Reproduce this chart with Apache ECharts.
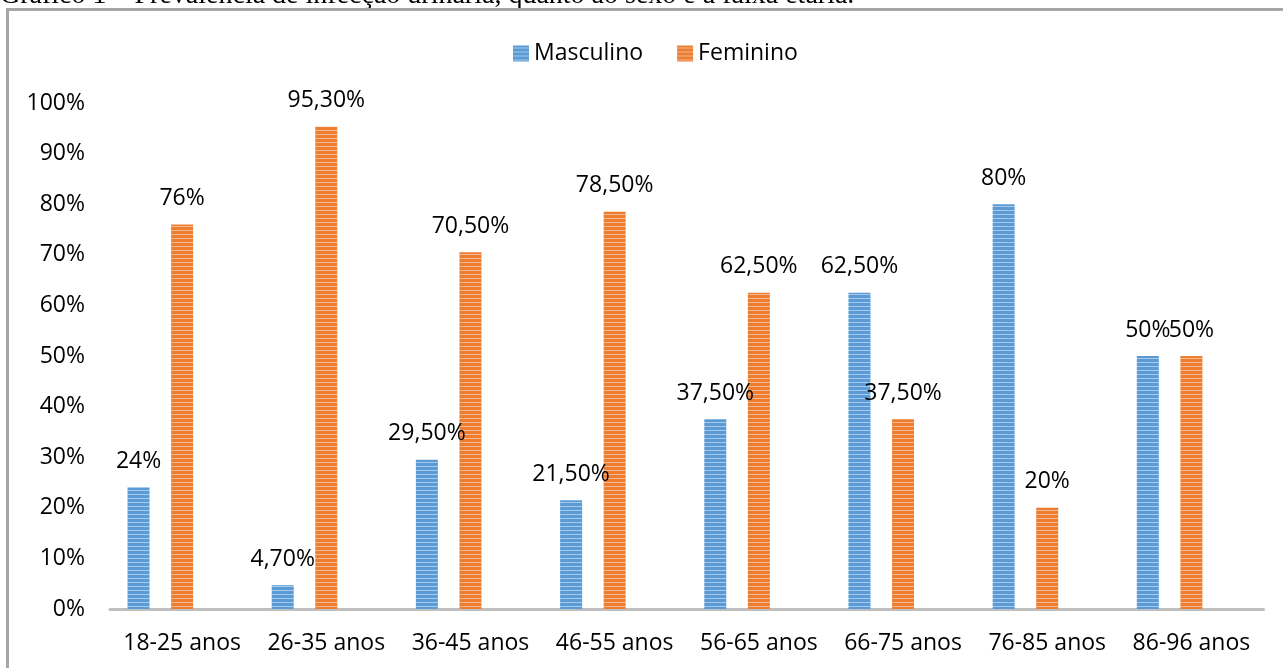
<!DOCTYPE html>
<html>
<head>
<meta charset="utf-8">
<script src="https://cdn.jsdelivr.net/npm/echarts@6/dist/echarts.min.js"></script>
<style>
  html, body { margin: 0; padding: 0; background: #fff; }
  #chart { width: 1283px; height: 668px; }
</style>
</head>
<body>
<div id="chart"></div>
<script>
// Faixas etárias e prevalência (%) por sexo
const categories = ['18-25 anos', '26-35 anos', '36-45 anos', '46-55 anos', '56-65 anos', '66-75 anos', '76-85 anos', '86-96 anos'];
const masculino = [24, 4.7, 29.5, 21.5, 37.5, 62.5, 80, 50];
const feminino = [76, 95.3, 70.5, 78.5, 62.5, 37.5, 20, 50];
const yTicks = [0, 10, 20, 30, 40, 50, 60, 70, 80, 90, 100];

const FONT = '"Open Sans", "Noto Sans", sans-serif';
const FS = 23;

// Horizontal stripe fill, like an office "narrow horizontal" pattern
function stripes(dark, light) {
  const c = document.createElement('canvas');
  c.width = 4; c.height = 4;
  const g = c.getContext('2d');
  g.fillStyle = dark; g.fillRect(0, 0, 4, 4);
  g.fillStyle = light; g.fillRect(0, 2, 4, 1);
  return { image: c, repeat: 'repeat' };
}
const blueFill = stripes('#5b9bd5', '#a8c9ea');
const orangeFill = stripes('#ed7d31', '#f6b88f');

// 24 -> "24%", 4.7 -> "4,70%"
function pct(v) {
  return Number.isInteger(v) ? v + '%' : v.toFixed(2).replace('.', ',') + '%';
}

const labelStyle = {
  show: true,
  position: 'top',
  distance: 14,
  fontFamily: FONT,
  fontSize: FS,
  lineHeight: 24,
  color: '#000',
  formatter: p => pct(p.value)
};

const chart = echarts.init(document.getElementById('chart'), null, { renderer: 'canvas' });
chart.setOption({
  animation: false,
  backgroundColor: '#fff',
  graphic: [
    {
      type: 'text',
      left: 0,
      top: -18,
      z: 1,
      style: {
        text: 'Gráfico 1 – Prevalência de infecção urinária, quanto ao sexo e a faixa etária.',
        font: '28px "Liberation Serif", "Times New Roman", serif',
        fill: '#000'
      }
    },
    {
      type: 'rect',
      z: 2,
      shape: { x: 7.5, y: 9.5, width: 1300, height: 700 },
      style: { fill: 'none', stroke: '#a6a6a6', lineWidth: 3 }
    }
  ],
  legend: {
    data: ['Masculino', 'Feminino'],
    left: 508,
    top: 37,
    itemWidth: 16,
    itemHeight: 16,
    itemGap: 34,
    icon: 'rect',
    textStyle: { fontFamily: FONT, fontSize: FS, color: '#000', padding: [0, 0, 0, 0] }
  },
  grid: { left: 110, right: 19.5, top: 103, bottom: 59, containLabel: false },
  xAxis: {
    type: 'category',
    data: categories,
    axisLine: { lineStyle: { color: '#bfbfbf', width: 3 } },
    axisTick: { show: false },
    axisLabel: { interval: 0, fontFamily: FONT, fontSize: FS, lineHeight: 24, color: '#000', margin: 22 }
  },
  yAxis: {
    type: 'value',
    min: yTicks[0],
    max: yTicks[yTicks.length - 1],
    interval: yTicks[1] - yTicks[0],
    splitLine: { show: false },
    axisLine: { show: false },
    axisTick: { show: false },
    axisLabel: { fontFamily: FONT, fontSize: FS, color: '#000', margin: 25, formatter: v => v + '%' }
  },
  series: [
    {
      name: 'Masculino',
      type: 'bar',
      data: masculino,
      barWidth: 22,
      barGap: '98%',
      itemStyle: { color: blueFill },
      label: labelStyle
    },
    {
      name: 'Feminino',
      type: 'bar',
      data: feminino,
      barWidth: 22,
      barGap: '98%',
      itemStyle: { color: orangeFill },
      label: labelStyle
    },
    {
      // empty third slot keeps the pair left of each category centre
      name: '',
      type: 'bar',
      data: categories.map(() => null),
      barWidth: 22,
      barGap: '98%',
      silent: true
    }
  ]
});
</script>
</body>
</html>
